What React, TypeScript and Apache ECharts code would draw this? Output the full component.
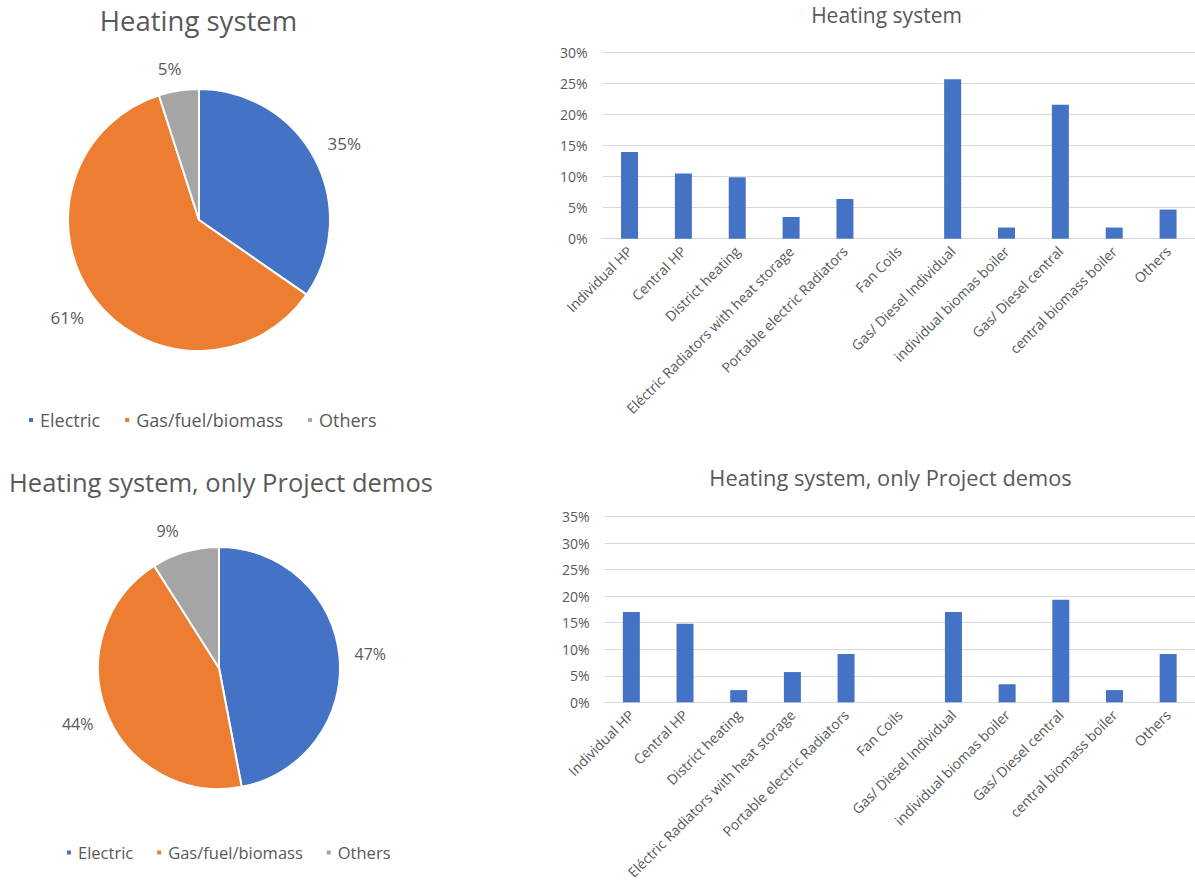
import { useEffect, useRef } from "react";
import * as echarts from "echarts";

// Heating system survey: shares per heating technology and per group
const categories = [
  "Individual HP",
  "Central HP",
  "District heating",
  "Eléctric Radiators with heat storage",
  "Portable electric Radiators",
  "Fan Coils",
  "Gas/ Diesel Individual",
  "individual biomas boiler",
  "Gas/ Diesel central",
  "central biomass boiler",
  "Others",
];
const allSharesPct = [14.0, 10.5, 9.9, 3.5, 6.4, 0, 25.7, 1.8, 21.6, 1.8, 4.7];
const demoSharesPct = [17.0, 14.8, 2.3, 5.7, 9.1, 0, 17.0, 3.4, 19.3, 2.3, 9.1];

const groupNames = ["Electric", "Gas/fuel/biomass", "Others"];
const allGroupPct = [35, 61, 5];
const demoGroupPct = [47, 44, 9];

const allAxisMax = 30;
const demoAxisMax = 35;
const axisStep = 5;

const FONT = "'Open Sans', 'Noto Sans', sans-serif";
const TEXT = "#595959";
const GRID = "#D9D9D9";
const BAR = "#4472C4";
const groupColors = ["#4472C4", "#ED7D31", "#A5A5A5"];

function pieSeries(
  values: number[],
  center: number[],
  r: number,
  labelR: number,
  fontSize: number,
  smallSliceShift: number[]
) {
  const data = groupNames.map((name, i) => ({ name, value: values[i] }));
  // the narrow last slice keeps its label a little closer to the rim
  const labelData = data.map((d, i) =>
    i === data.length - 1 ? { ...d, label: { offset: smallSliceShift } } : d
  );
  return [
    {
      type: "pie",
      center,
      radius: r,
      startAngle: 90,
      clockwise: true,
      color: groupColors,
      data,
      label: { show: false },
      labelLine: { show: false },
      itemStyle: { borderColor: "#ffffff", borderWidth: 2 },
      emphasis: { disabled: true },
      silent: true,
    },
    {
      // ring carrying the percentage labels just outside the pie
      type: "pie",
      center,
      radius: [labelR - 12, labelR + 12],
      startAngle: 90,
      clockwise: true,
      data: labelData,
      itemStyle: { color: "transparent" },
      label: {
        show: true,
        position: "inside",
        formatter: "{c}%",
        color: TEXT,
        fontSize,
        fontFamily: FONT,
      },
      labelLine: { show: false },
      emphasis: { disabled: true },
      silent: true,
      legendHoverLink: false,
    },
  ];
}

function legend(left: number, top: number, fontSize: number, gap: number) {
  return {
    left,
    top,
    orient: "horizontal",
    icon: "rect",
    itemWidth: 6,
    itemHeight: 6,
    itemGap: gap,
    selectedMode: false,
    textStyle: { color: TEXT, fontSize, fontFamily: FONT, padding: [0, 0, 0, 1] },
    data: groupNames.map((name, i) => ({ name, itemStyle: { color: groupColors[i] } })),
  };
}

function xAxis(gridIndex: number) {
  return {
    type: "category",
    gridIndex,
    data: categories,
    axisTick: { show: false },
    axisLine: { lineStyle: { color: GRID, width: 1 } },
    axisLabel: {
      rotate: 45,
      interval: 0,
      fontSize: 14,
      color: TEXT,
      fontFamily: FONT,
      margin: 10,
    },
  };
}

function yAxis(gridIndex: number, max: number) {
  return {
    type: "value",
    gridIndex,
    min: 0,
    max,
    interval: axisStep,
    axisLine: { show: false },
    axisTick: { show: false },
    axisLabel: {
      formatter: "{value}%",
      fontSize: 14,
      color: TEXT,
      fontFamily: FONT,
      margin: 15,
    },
    splitLine: { lineStyle: { color: GRID, width: 1 } },
  };
}

function titleText(text: string, x: number, y: number, size: number) {
  return {
    type: "text",
    x,
    y,
    silent: true,
    style: {
      text,
      fill: TEXT,
      fontSize: size,
      fontFamily: FONT,
      align: "center",
      verticalAlign: "middle",
    },
  };
}

export default function App() {
  const ref = useRef<HTMLDivElement>(null);

  useEffect(() => {
    if (!ref.current) return;
    const chart = echarts.init(ref.current, null, { renderer: "svg" });
    chart.setOption({
      animation: false,
      backgroundColor: "#ffffff",
      graphic: [
        titleText("Heating system", 198.5, 20, 27.5),
        titleText("Heating system, only Project demos", 221, 482, 25.5),
        titleText("Heating system", 886.5, 15, 21),
        titleText("Heating system, only Project demos", 890.5, 477, 21.8),
      ],
      legend: [legend(22, 406, 18, 23), legend(60, 839, 16.5, 22)],
      grid: [
        { left: 602.6, top: 52.7, width: 602.8, height: 186, containLabel: false },
        { left: 604.5, top: 516.5, width: 605, height: 185.8, containLabel: false },
      ],
      xAxis: [xAxis(0), xAxis(1)],
      yAxis: [yAxis(0, allAxisMax), yAxis(1, demoAxisMax)],
      series: [
        ...pieSeries(allGroupPct, [199, 220], 131, 161, 17, [-4, 11]),
        ...pieSeries(demoGroupPct, [219, 668], 121, 149, 16, [-9, 9]),
        {
          type: "bar",
          xAxisIndex: 0,
          yAxisIndex: 0,
          data: allSharesPct,
          barWidth: 17,
          itemStyle: { color: BAR },
          silent: true,
        },
        {
          type: "bar",
          xAxisIndex: 1,
          yAxisIndex: 1,
          data: demoSharesPct,
          barWidth: 17,
          itemStyle: { color: BAR },
          silent: true,
        },
      ],
    });
    return () => chart.dispose();
  }, []);

  return (
    <div
      ref={ref}
      style={{ position: "absolute", left: 0, top: 0, width: 1195, height: 890, overflow: "hidden" }}
    />
  );
}
